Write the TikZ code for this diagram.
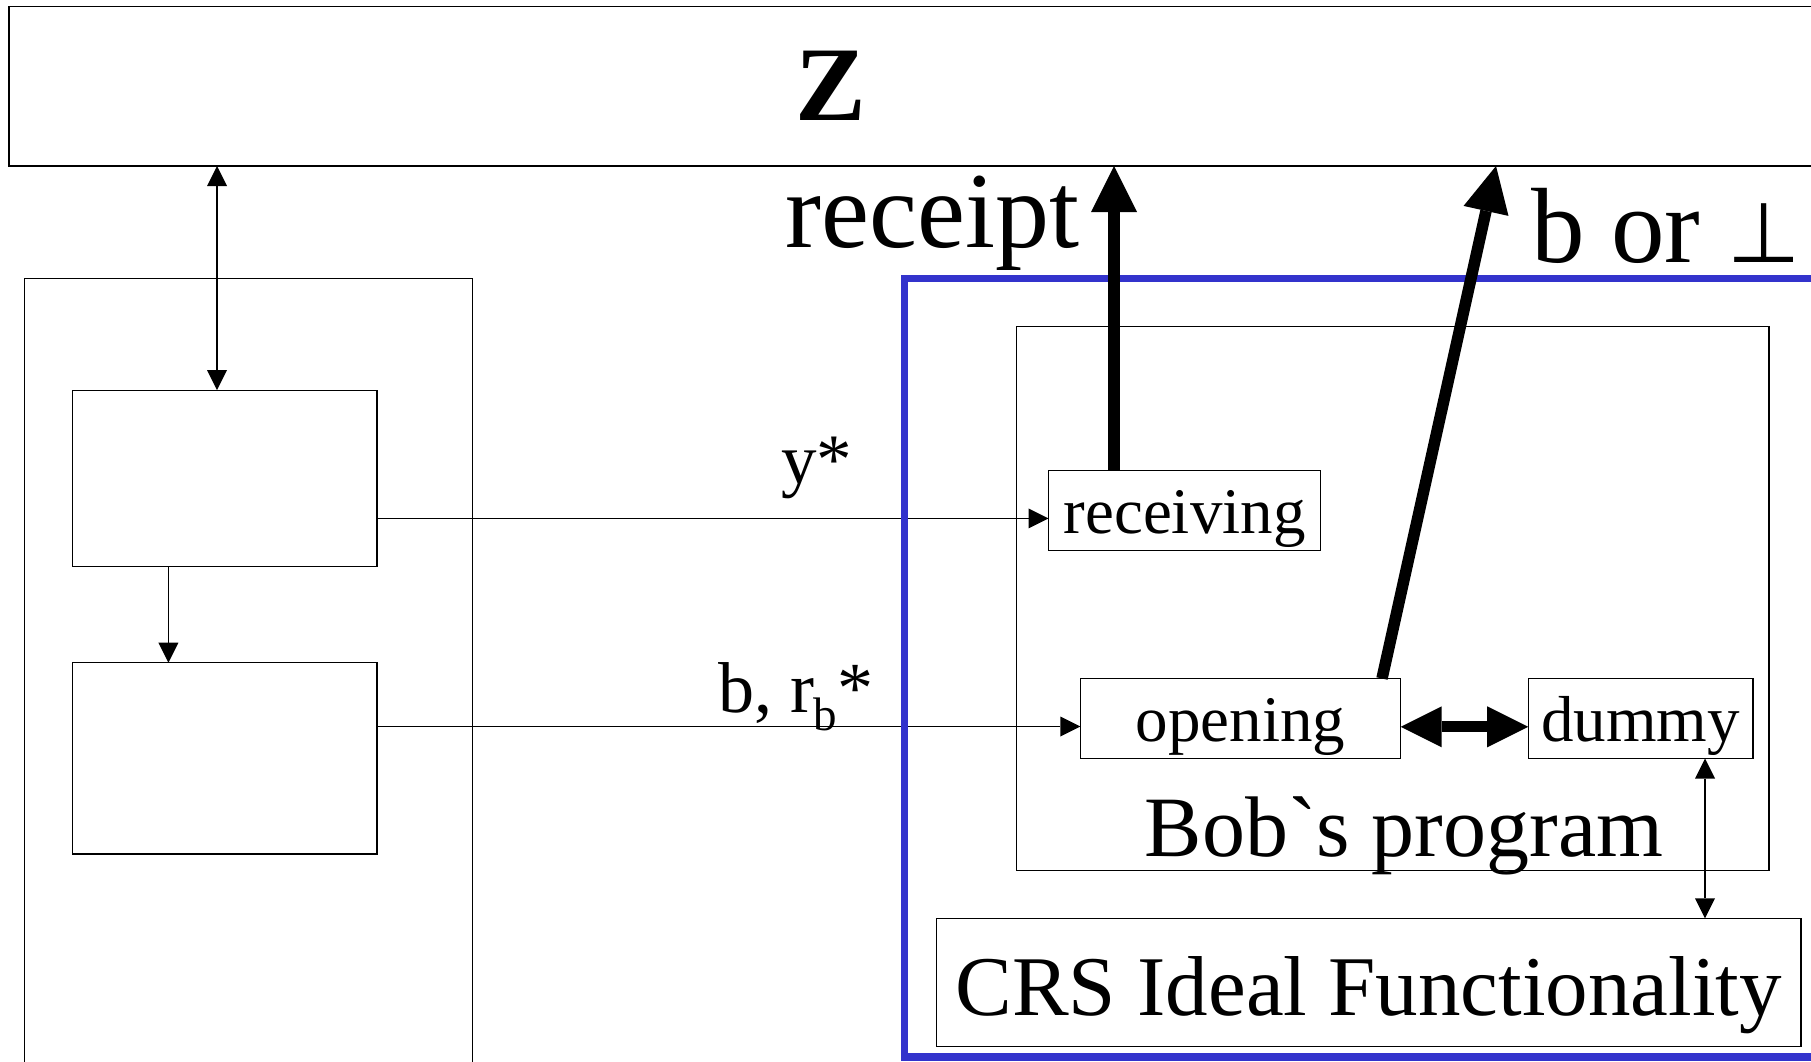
\documentclass[tikz,border=0pt]{standalone}
\usepackage{fontspec}
\setmainfont{Liberation Serif}
\newfontfamily\symbolfont{DejaVu Sans}
\usetikzlibrary{arrows.meta}
\definecolor{frameblue}{RGB}{51,51,204}
\newcommand\fs[1]{\fontsize{#1}{#1}\selectfont}

\begin{document}
\begin{tikzpicture}[x=1pt,y=-1pt,
  box/.style={draw, line width=1.4pt, inner sep=0pt, outer sep=0pt},
  tbox/.style={box, text height=63pt, text depth=17pt, font=\fs{65}},
  lbl/.style={inner sep=0pt, outer sep=0pt},
  sarrow/.style={line width=1.4pt, -{Triangle[length=20pt,width=20pt,line width=0pt]}},
  sdarrow/.style={line width=1.4pt, {Triangle[length=20pt,width=20pt,line width=0pt]}-{Triangle[length=20pt,width=20pt,line width=0pt]}},
  barrow/.style={line width=11.5pt, -{Triangle[length=46pt,width=46pt,line width=0pt]}},
  bdarrow/.style={line width=11pt, {Triangle[length=41pt,width=41pt,line width=0pt]}-{Triangle[length=41pt,width=41pt,line width=0pt]}}]

\useasboundingbox (0,0) rectangle (1811,1061);
\clip (0,0) rectangle (1811,1061);

% environment Z
\node[box, anchor=north west, minimum width=1830pt, minimum height=159.3pt] (zbox) at (9,6.7) {};
\node[lbl, anchor=base, font=\fs{106}\bfseries] (zt) at (830.5,120) {Z};

% adversary side
\node[box, anchor=north west, minimum width=448.4pt, minimum height=850pt] (adv) at (24.2,278.4) {};
\node[box, anchor=north west, minimum width=304.2pt, minimum height=176.3pt] (ub) at (72.7,390.2) {};
\node[box, anchor=north west, minimum width=304.2pt, minimum height=191.4pt] (lb) at (72.7,662.7) {};

% simulated receiver
\node[box, anchor=north west, minimum width=752.2pt, minimum height=544.2pt] (bob) at (1016.6,326.5) {};
\node[tbox, anchor=north west, minimum width=272.2pt] (rcv) at (1048.5,470.5) {receiving};
\node[tbox, anchor=north west, minimum width=320.3pt] (opn) at (1080.4,678.5) {opening};
\node[tbox, anchor=north west, minimum width=224.6pt] (dmy) at (1528.2,678.5) {dummy};
\node[lbl, anchor=base, font=\fs{86}] (bobt) at (1404,856) {Bob\textasciigrave s program};
\node[box, anchor=north west, minimum width=864.5pt, text height=97.2pt, text depth=31pt, font=\fs{85}] (crs) at (936.5,918.3) {CRS Ideal Functionality};

% labels
\node[lbl, anchor=base east, font=\fs{108}] (rct) at (1079,247) {receipt};
\node[lbl, anchor=base west, font=\fs{107}] (bot) at (1531,262) {b or {\symbolfont\fs{84}⊥}};
\node[lbl, anchor=base east, font=\fs{71}] (yst) at (852,483) {y*};
\node[lbl, anchor=base west, font=\fs{72}] (brt) at (718,712) {b, r\raisebox{-18pt}{\fs{47}b}*};

% helper coordinates for connector positions
\coordinate (zl) at (217,0);
\coordinate (dl) at (168.4,0);
\coordinate (yl) at (0,518.4);
\coordinate (bl) at (0,726.5);
\coordinate (rl) at (1114,0);
\coordinate (bo1) at (1382,0);
\coordinate (bo2) at (1496,0);
\coordinate (od) at (0,726.8);
\coordinate (dc) at (1705,0);

% thin connectors
\draw[sdarrow] (zbox.south -| zl) -- (ub.north -| zl);
\draw[sarrow] (ub.south -| dl) -- (lb.north -| dl);
\draw[sarrow] (ub.east |- yl) -- (rcv.west |- yl);
\draw[sarrow] (lb.east |- bl) -- (opn.west |- bl);
\draw[sdarrow] (dmy.south -| dc) -- (crs.north -| dc);

% blue frame
\node[draw=frameblue, line width=7.7pt, inner sep=0pt, outer sep=0pt, anchor=north west,
      minimum width=950pt, minimum height=778.6pt] (sim) at (904.5,278.4) {};

% thick connectors
\draw[barrow] (rcv.north -| rl) -- (zbox.south -| rl);
\draw[barrow] (opn.north -| bo1) -- (zbox.south -| bo2);
\draw[bdarrow] (opn.east |- od) -- (dmy.west |- od);
\end{tikzpicture}
\end{document}
